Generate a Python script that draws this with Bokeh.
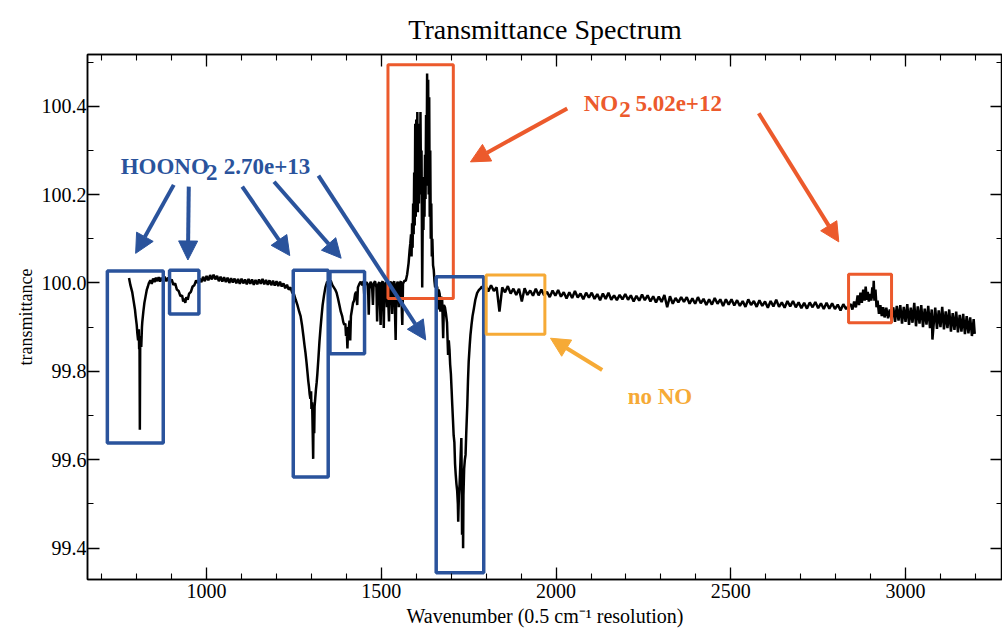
from bokeh.plotting import figure
from bokeh.models import (Range1d, LinearAxis, SingleIntervalTicker, Arrow, NormalHead,
                          Label, NumeralTickFormatter, ColumnDataSource)
from bokeh.embed import file_html
from bokeh.resources import INLINE
from bokeh.core.properties import value

# ---------------- data: (wavenumber, transmittance) ----------------
band_803 = [(778, 100.011), (782, 99.995), (787, 99.980), (791, 99.960), (795, 99.940),
            (797, 99.925), (800, 99.905), (802, 99.885), (804, 99.870), (806, 99.895),
            (807, 99.850), (808, 99.880), (809, 99.668), (810, 99.860), (811, 99.875),
            (813, 99.855), (815, 99.900), (816, 99.912), (819, 99.935), (822, 99.955),
            (825, 99.968), (829, 99.985), (832, 99.992), (835, 100.000), (839, 100.006),
            (843, 99.998), (847, 100.010), (851, 100.002), (855, 100.012), (859, 100.004),
            (863, 100.013), (867, 100.003), (871, 100.012)]

band_930 = [(875, 100.005), (880, 100.014), (885, 100.004), (890, 100.012), (895, 100.002),
            (900, 100.008), (905, 99.996), (910, 99.999), (915, 99.985), (920, 99.982),
            (925, 99.970), (930, 99.972), (933, 99.958), (936, 99.965), (939, 99.955),
            (942, 99.968), (946, 99.962), (950, 99.976), (955, 99.980), (960, 99.992),
            (965, 99.995), (970, 100.006), (975, 100.000), (980, 100.010), (985, 100.002),
            (990, 100.014), (995, 100.004), (1000, 100.016), (1005, 100.006), (1010, 100.018),
            (1015, 100.008), (1020, 100.019), (1025, 100.008), (1030, 100.016), (1035, 100.004),
            (1040, 100.014), (1045, 100.003), (1050, 100.013), (1055, 100.002), (1060, 100.012),
            (1065, 100.000), (1070, 100.011), (1075, 100.001), (1080, 100.010), (1085, 99.999),
            (1090, 100.009), (1095, 99.998), (1100, 100.010), (1105, 99.999), (1110, 100.008),
            (1115, 99.997), (1120, 100.009), (1125, 99.998), (1130, 100.008), (1135, 99.996),
            (1140, 100.007), (1145, 99.997), (1150, 100.008), (1155, 99.998), (1160, 100.009),
            (1165, 99.997), (1170, 100.007), (1175, 99.996), (1180, 100.006), (1185, 99.995),
            (1190, 100.005), (1195, 99.994), (1200, 100.004), (1205, 99.993), (1210, 100.003),
            (1215, 99.992), (1220, 99.999), (1225, 99.988), (1230, 99.996), (1235, 99.985),
            (1240, 99.990), (1245, 99.978)]

band_1305 = [(1250, 99.975), (1255, 99.962), (1260, 99.950), (1265, 99.935), (1269, 99.925),
             (1273, 99.905), (1277, 99.880), (1280, 99.860), (1283, 99.842), (1286, 99.820),
             (1289, 99.795), (1291, 99.778), (1293, 99.765), (1295, 99.748), (1297, 99.738),
             (1299, 99.755), (1300, 99.715), (1302, 99.730), (1303, 99.690), (1305, 99.602),
             (1306, 99.700), (1308, 99.660), (1309, 99.720), (1311, 99.740), (1313, 99.760),
             (1315, 99.775), (1317, 99.795), (1320, 99.830), (1323, 99.868), (1326, 99.898),
             (1329, 99.925), (1332, 99.950), (1336, 99.972), (1340, 99.990), (1345, 100.003)]

band_1400 = [(1350, 99.998), (1355, 100.006), (1360, 99.995), (1364, 99.990), (1368, 99.985),
             (1372, 99.978), (1376, 99.965), (1380, 99.950), (1384, 99.935), (1388, 99.925),
             (1391, 99.912), (1394, 99.905), (1397, 99.908), (1399, 99.880), (1401, 99.895),
             (1403, 99.852), (1405, 99.900), (1407, 99.898), (1409, 99.915), (1411, 99.870),
             (1413, 99.925), (1416, 99.940), (1419, 99.955), (1422, 99.960), (1425, 99.975),
             (1428, 99.980), (1431, 99.950), (1433, 99.990), (1437, 99.998), (1441, 100.003),
             (1445, 99.995), (1449, 100.004), (1452, 99.960), (1454, 99.998), (1458, 100.002),
             (1462, 99.994), (1464, 99.928), (1466, 99.996), (1470, 100.003), (1474, 99.985),
             (1476, 99.950), (1478, 99.998), (1482, 100.004), (1486, 99.990), (1488, 99.913),
             (1490, 99.995), (1494, 100.002), (1498, 99.905), (1500, 99.998), (1504, 100.004),
             (1507, 99.898), (1509, 99.995), (1513, 100.002), (1516, 99.945), (1518, 99.996),
             (1522, 99.913), (1524, 99.998), (1528, 100.003), (1531, 99.930), (1533, 99.996),
             (1537, 100.004), (1541, 99.871), (1543, 99.995), (1547, 100.003), (1550, 99.945),
             (1552, 99.998), (1556, 100.004), (1560, 99.905), (1562, 99.998), (1566, 100.005)]

band_no2_1620 = [(1570, 100.005), (1574, 100.020), (1578, 100.045), (1581, 100.075), (1583, 100.090),
                 (1585, 100.11), (1586.5, 100.06), (1588, 100.135), (1589.5, 100.08), (1591, 100.18),
                 (1592.5, 100.11), (1594, 100.25), (1595.5, 100.13), (1597, 100.36), (1598.5, 100.15),
                 (1600, 100.37), (1601.5, 100.17), (1603, 100.387), (1604.5, 100.16), (1606, 100.34),
                 (1607.5, 100.18), (1609, 100.36), (1610.5, 100.20), (1612, 100.387), (1613.5, 100.22),
                 (1615, 100.30), (1617, 99.99), (1619, 100.20), (1620.5, 100.12), (1622, 100.24),
                 (1623.5, 100.15), (1625, 100.29), (1626.5, 100.19), (1628, 100.38), (1629.5, 100.22),
                 (1631, 100.474), (1632.5, 100.25), (1634, 100.46), (1635.5, 100.20), (1637, 100.42),
                 (1638.5, 100.15), (1640, 100.30), (1641.5, 100.10), (1643, 100.18), (1644.5, 100.06),
                 (1646, 100.10), (1648, 100.04), (1650, 100.03), (1652, 100.005), (1654, 99.99)]

band_1728 = [(1657, 99.995), (1660, 99.990), (1662, 99.940), (1664, 99.985), (1667, 99.975),
             (1669, 99.935), (1671, 99.968), (1674, 99.965), (1677, 99.875), (1679, 99.950),
             (1682, 99.945), (1685, 99.930), (1688, 99.910), (1691, 99.837), (1693, 99.870),
             (1695, 99.850), (1697, 99.815), (1699, 99.795), (1701, 99.760), (1703, 99.724),
             (1705, 99.690), (1707, 99.655), (1709, 99.640), (1711, 99.590), (1713, 99.565),
             (1715, 99.545), (1717, 99.530), (1719, 99.500), (1720, 99.460), (1722, 99.520),
             (1724, 99.545), (1725, 99.566), (1727, 99.610), (1729, 99.649), (1730, 99.560),
             (1731, 99.430), (1732, 99.500), (1733, 99.540), (1734, 99.400), (1735, 99.520),
             (1737, 99.580), (1739, 99.600), (1741, 99.611), (1743, 99.660), (1746, 99.724),
             (1748, 99.780), (1750, 99.822), (1753, 99.860), (1755, 99.882), (1758, 99.905),
             (1761, 99.925), (1765, 99.943), (1769, 99.962), (1774, 99.977), (1779, 99.984),
             (1784, 99.988), (1788, 99.992), (1792, 99.985)]

flat_mid = [(1798, 99.994), (1806, 99.981), (1814, 99.995), (1822, 99.982), (1830, 99.990),
            (1838, 99.935), (1846, 99.990), (1854, 99.979), (1862, 99.993), (1870, 99.976),
            (1878, 99.987), (1886, 99.973), (1894, 99.987), (1902, 99.958), (1910, 99.988),
            (1918, 99.973), (1926, 99.983), (1934, 99.971), (1942, 99.987), (1950, 99.972),
            (1958, 99.985), (1966, 99.972), (1974, 99.980), (1982, 99.968), (1990, 99.983),
            (1998, 99.971), (2006, 99.984), (2014, 99.969), (2022, 99.979), (2030, 99.965),
            (2038, 99.979), (2046, 99.966), (2054, 99.982), (2062, 99.967), (2070, 99.976),
            (2078, 99.963), (2086, 99.978), (2094, 99.967), (2102, 99.978), (2110, 99.964),
            (2118, 99.975), (2126, 99.961), (2134, 99.976), (2142, 99.964), (2150, 99.978),
            (2158, 99.962), (2166, 99.972), (2174, 99.961), (2182, 99.973), (2190, 99.963),
            (2198, 99.975), (2206, 99.962), (2214, 99.972), (2222, 99.958), (2230, 99.971),
            (2238, 99.960), (2246, 99.974), (2254, 99.961), (2262, 99.972), (2270, 99.958),
            (2278, 99.970), (2286, 99.956), (2294, 99.969), (2302, 99.957), (2310, 99.973),
            (2318, 99.945), (2326, 99.970), (2334, 99.953), (2342, 99.966), (2350, 99.956),
            (2358, 99.968), (2366, 99.957), (2374, 99.968), (2382, 99.953), (2390, 99.965),
            (2398, 99.953), (2406, 99.968), (2414, 99.954), (2422, 99.964), (2430, 99.950),
            (2438, 99.963), (2446, 99.951), (2454, 99.966), (2462, 99.953), (2470, 99.963),
            (2478, 99.948), (2486, 99.963), (2494, 99.951), (2502, 99.963), (2510, 99.949),
            (2518, 99.961), (2526, 99.948), (2534, 99.959), (2542, 99.946), (2550, 99.963),
            (2558, 99.950), (2566, 99.959), (2574, 99.946), (2582, 99.961), (2590, 99.948),
            (2598, 99.958), (2606, 99.944), (2614, 99.959), (2622, 99.947), (2630, 99.962),
            (2638, 99.946), (2646, 99.956), (2654, 99.944), (2662, 99.959), (2670, 99.947),
            (2678, 99.959), (2686, 99.945), (2694, 99.956), (2702, 99.943), (2710, 99.955),
            (2718, 99.942), (2726, 99.956), (2734, 99.945), (2742, 99.957), (2750, 99.943),
            (2758, 99.954), (2766, 99.941), (2774, 99.955), (2782, 99.942), (2790, 99.954),
            (2798, 99.941), (2806, 99.951), (2814, 99.938), (2822, 99.952), (2830, 99.941),
            (2838, 99.949)]

band_no2_2900 = [(2843, 99.952), (2848, 99.940), (2853, 99.958), (2858, 99.945), (2863, 99.972),
                 (2867, 99.950), (2871, 99.978), (2875, 99.955), (2879, 99.985), (2883, 99.960),
                 (2886, 99.992), (2889, 99.962), (2892, 99.980), (2895, 99.958), (2899, 99.975),
                 (2902, 99.960), (2905, 99.990), (2907, 99.965), (2909, 100.005), (2911, 99.960),
                 (2914, 99.985), (2917, 99.945), (2920, 99.960), (2924, 99.930), (2928, 99.950),
                 (2932, 99.925), (2936, 99.945), (2940, 99.922), (2945, 99.944), (2950, 99.920),
                 (2955, 99.940), (2960, 99.918)]

tail_3000 = [(2965, 99.945), (2970, 99.912), (2975, 99.948), (2980, 99.915), (2985, 99.950),
             (2990, 99.908), (2995, 99.946), (3000, 99.912), (3005, 99.952), (3010, 99.905),
             (3015, 99.944), (3020, 99.910), (3025, 99.955), (3030, 99.902), (3035, 99.947),
             (3040, 99.908), (3045, 99.950), (3050, 99.900), (3055, 99.942), (3060, 99.906),
             (3065, 99.948), (3070, 99.898), (3075, 99.940), (3077, 99.872), (3080, 99.902),
             (3085, 99.944), (3090, 99.896), (3095, 99.938), (3100, 99.900), (3105, 99.946),
             (3110, 99.895), (3115, 99.936), (3120, 99.898), (3125, 99.940), (3130, 99.890),
             (3135, 99.932), (3140, 99.894), (3145, 99.935), (3150, 99.888), (3155, 99.928),
             (3160, 99.890), (3165, 99.930), (3170, 99.884), (3175, 99.925), (3180, 99.886),
             (3185, 99.922), (3190, 99.880), (3195, 99.918), (3198, 99.885)]

x_ticks_interval = 500
y_ticks_interval = 0.2

segments = [band_803, band_930, band_1305, band_1400, band_no2_1620, band_1728,
            flat_mid, band_no2_2900, tail_3000]
wavenumber = [w for seg in segments for (w, t) in seg]
transmittance = [t for seg in segments for (w, t) in seg]

# ---------------- styling ----------------
SERIF = "Liberation Serif"
BLUE = "#2a539c"
RED = "#ec5a2c"
ORANGE = "#f6aa36"

p = figure(frame_width=915, frame_height=525,
           x_range=Range1d(659.2, 3277.5), y_range=Range1d(99.329, 100.517),
           output_backend="svg", toolbar_location=None,
           min_border_left=87, min_border_top=54, min_border_right=0, min_border_bottom=0,
           title="Transmittance Spectrum")
p.title.align = "center"
p.title.text_font = SERIF
p.title.text_font_size = "28px"
p.title.text_font_style = "normal"
p.title.text_color = "black"
p.title.standoff = 20

p.xgrid.visible = False
p.ygrid.visible = False
p.outline_line_color = "black"
p.outline_line_width = 1.5
p.background_fill_color = "white"
p.border_fill_color = "white"

def style_axis(ax, show_labels=True):
    ax.axis_line_width = 1.5
    ax.axis_line_color = "black"
    ax.major_tick_in = 12
    ax.major_tick_out = 0
    ax.minor_tick_in = 6
    ax.minor_tick_out = 0
    ax.major_tick_line_width = 1.3
    ax.minor_tick_line_width = 1.1
    ax.major_tick_line_color = "black"
    ax.minor_tick_line_color = "black"
    if show_labels:
        ax.major_label_text_font = SERIF
        ax.major_label_text_font_size = "20px"
        ax.major_label_text_color = "black"
        ax.axis_label_text_font = SERIF
        ax.axis_label_text_font_style = "normal"
        ax.axis_label_text_color = "black"
    else:
        ax.major_label_text_font_size = "0px"
        ax.major_label_standoff = 0

p.xaxis.ticker = SingleIntervalTicker(interval=x_ticks_interval, num_minor_ticks=5)
p.yaxis.ticker = SingleIntervalTicker(interval=y_ticks_interval, num_minor_ticks=2)
p.yaxis.formatter = NumeralTickFormatter(format="0.0")
p.xaxis.axis_label = "Wavenumber (0.5 cm\u207b\u00b9 resolution)"
p.yaxis.axis_label = "transmittance"
style_axis(p.xaxis[0])
style_axis(p.yaxis[0])
p.xaxis.axis_label_text_font_size = "20px"
p.yaxis.axis_label_text_font_size = "18px"
p.xaxis.major_label_standoff = 4
p.xaxis.axis_label_standoff = 4
p.yaxis.major_label_standoff = 1
p.yaxis.axis_label_standoff = 3

top_ax = LinearAxis(ticker=SingleIntervalTicker(interval=x_ticks_interval, num_minor_ticks=5))
right_ax = LinearAxis(ticker=SingleIntervalTicker(interval=y_ticks_interval, num_minor_ticks=2))
style_axis(top_ax, False)
style_axis(right_ax, False)
p.add_layout(top_ax, "above")
p.add_layout(right_ax, "right")

src = ColumnDataSource(dict(x=wavenumber, y=transmittance))
p.line("x", "y", source=src, line_color="black", line_width=2.5, line_join="bevel")

# ---------------- annotation boxes (wavenumber / transmittance extents) ----------------
blue_boxes = dict(left=[716, 894, 1248, 1353, 1657], right=[876, 978, 1348, 1452, 1793],
                  bottom=[99.638, 99.930, 99.561, 99.840, 99.344],
                  top=[100.027, 100.029, 100.029, 100.026, 100.014])
red_boxes = dict(left=[1519, 2837], right=[1706, 2960], bottom=[99.965, 99.910], top=[100.494, 100.020])
orange_boxes = dict(left=[1800], right=[1968], bottom=[99.884], top=[100.018])

p.quad(source=ColumnDataSource(red_boxes), left="left", right="right", bottom="bottom", top="top",
       fill_color=None, line_color=RED, line_width=3)
p.quad(source=ColumnDataSource(blue_boxes), left="left", right="right", bottom="bottom", top="top",
       fill_color=None, line_color=BLUE, line_width=3.5)
p.quad(source=ColumnDataSource(orange_boxes), left="left", right="right", bottom="bottom", top="top",
       fill_color=None, line_color=ORANGE, line_width=3)

# ---------------- arrows ----------------
blue_arrows = [(906, 100.222, 797, 100.067), (949, 100.218, 946.5, 100.052),
               (1102, 100.218, 1238, 100.062), (1193, 100.229, 1385, 100.056),
               (1320, 100.243, 1627, 99.871)]
red_arrows = [(2032, 100.395, 1755, 100.274), (2580, 100.384, 2809, 100.093)]
orange_arrows = [(2132, 99.803, 1984, 99.875)]

for arrows, col in ((blue_arrows, BLUE), (red_arrows, RED), (orange_arrows, ORANGE)):
    for (xs, ys, xe, ye) in arrows:
        p.add_layout(Arrow(end=NormalHead(size=19, fill_color=col, line_color=col, line_width=1),
                           x_start=xs, y_start=ys, x_end=xe, y_end=ye,
                           line_color=col, line_width=4))

# ---------------- labels ----------------
def add_label(x, y, text, color):
    p.add_layout(Label(x=x, y=y, text=text, text_color=color, text_font=SERIF,
                       text_font_size="23px", text_font_style="bold",
                       text_baseline="alphabetic", text_align="left"))

add_label(754, 100.263, "HOONO", BLUE)
add_label(998, 100.250, "2", BLUE)
add_label(1049, 100.263, "2.70e+13", BLUE)
add_label(2079, 100.406, "NO", RED)
add_label(2181, 100.393, "2", RED)
add_label(2227, 100.406, "5.02e+12", RED)
add_label(2205, 99.742, "no NO", ORANGE)

open("out.html", "w").write(file_html(p, INLINE))
